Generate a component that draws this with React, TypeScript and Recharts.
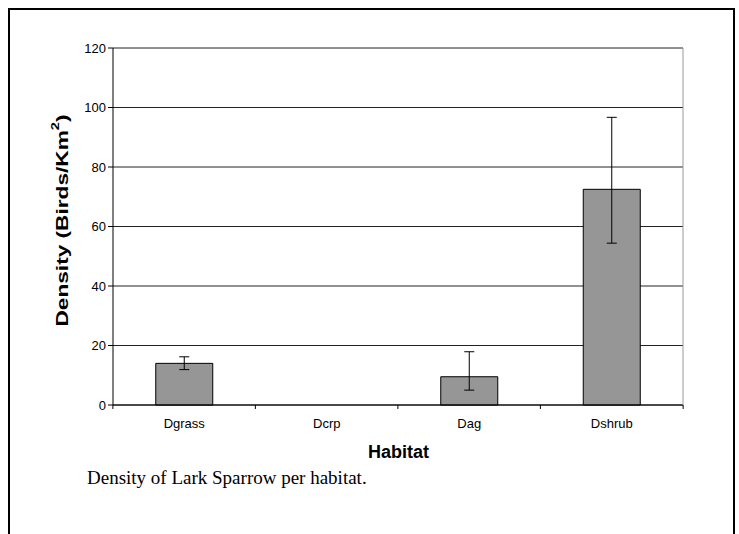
import { BarChart, Bar, XAxis, YAxis, CartesianGrid, ErrorBar } from 'recharts'

const habitats = ['Dgrass', 'Dcrp', 'Dag', 'Dshrub']
const density = [14.0, 0, 9.5, 72.5]
const errLow = [2.1, 0, 4.5, 18.1]
const errHigh = [2.2, 0, 8.4, 24.2]
const yTicks = [0, 20, 40, 60, 80, 100, 120]

const data = habitats.map((h, i) => ({ habitat: h, density: density[i], err: [errLow[i], errHigh[i]] }))

const W = 739
const H = 534
const X_H = 30
const M = { top: 48, right: 55, bottom: 129 - X_H, left: 53 }
const Y_W = 60
const PLOT_W = W - M.left - Y_W - M.right
const AXIS_Y = H - M.bottom - X_H
const BAND = PLOT_W / habitats.length

// Excel-style category axis: ticks sit between categories, labels in the middle
function HabitatTick(props: any) {
  const { x, payload, index } = props
  const left = x - BAND / 2
  return (
    <g>
      <line x1={left} x2={left} y1={AXIS_Y} y2={AXIS_Y + 4} stroke="#000" />
      {index === habitats.length - 1 && (
        <line x1={x + BAND / 2} x2={x + BAND / 2} y1={AXIS_Y} y2={AXIS_Y + 4} stroke="#000" />
      )}
      <text x={x} y={AXIS_Y + 14} dy="0.71em" textAnchor="middle" fontSize={13} fill="#000">
        {payload.value}
      </text>
    </g>
  )
}

// the original title is drawn a little stretched along its length
function DensityLabel(props: any) {
  const { viewBox } = props
  const cy = viewBox.y + viewBox.height / 2 - 6
  const cx = 62
  return (
    <text
      x={cx}
      y={cy}
      transform={`rotate(-90 ${cx} ${cy})`}
      textAnchor="middle"
      dominantBaseline="central"
      fontSize={17}
      fontWeight="bold"
      fill="#000"
      textLength={212}
      lengthAdjust="spacingAndGlyphs"
    >
      Density (Birds/Km
      <tspan dy={-7} fontSize={11}>2</tspan>
      <tspan dy={7}>)</tspan>
    </text>
  )
}

export default function App() {
  return (
    <div style={{ position: 'absolute', left: 0, top: 0, width: W, height: H, background: '#fff', fontFamily: 'Arial, "Liberation Sans", sans-serif', overflow: 'hidden' }}>
      <div style={{ position: 'absolute', left: 8, top: 8, width: 723, height: 560, border: '2px solid #000', borderBottom: 'none' }} />
      <div style={{ position: 'absolute', left: 0, top: 0 }}>
        <BarChart width={W} height={H} data={data} margin={M} barCategoryGap="30%">
          <CartesianGrid horizontal vertical={false} stroke="#222" />
          <XAxis
            dataKey="habitat"
            axisLine={{ stroke: '#000' }}
            tickLine={false}
            tick={<HabitatTick />}
            interval={0}
            height={X_H}
          />
          <YAxis
            domain={[0, 120]}
            ticks={yTicks}
            interval={0}
            width={Y_W}
            axisLine={{ stroke: '#000' }}
            tickLine={{ stroke: '#000' }}
            tickSize={5}
            tick={{ fill: '#000', fontSize: 13 }}
            label={{ content: <DensityLabel /> }}
          />
          <YAxis
            yAxisId="edge"
            orientation="right"
            domain={[0, 120]}
            width={1}
            tick={false}
            tickLine={false}
            axisLine={{ stroke: '#999' }}
          />
          <Bar dataKey="density" fill="#969696" stroke="#000" strokeWidth={1} isAnimationActive={false}>
            <ErrorBar dataKey="err" width={5} stroke="#000" strokeWidth={1} />
          </Bar>
        </BarChart>
      </div>
      <div style={{ position: 'absolute', left: 0, width: 797, top: 442, textAlign: 'center', fontSize: 18, fontWeight: 'bold', color: '#000' }}>
        Habitat
      </div>
      <div style={{ position: 'absolute', left: 87, top: 467, fontFamily: '"Liberation Serif", "Times New Roman", serif', fontSize: 19, color: '#000' }}>
        Density of Lark Sparrow per habitat.
      </div>
    </div>
  )
}
